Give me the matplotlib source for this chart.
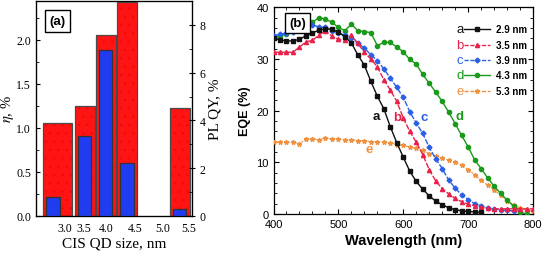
import matplotlib
matplotlib.use("Agg")
import matplotlib.pyplot as plt
import numpy as np
from matplotlib.ticker import MultipleLocator

plt.rcParams["mathtext.fontset"] = "stix"
plt.rcParams["hatch.linewidth"] = 0.5

# ---------------- data ----------------
# Panel (a)
qd_sizes = [2.9, 3.5, 3.9, 4.3, 5.3]          # nm
eta = [1.05, 1.25, 2.05, 2.43, 1.23]           # efficiency, %
plqy = [0.81, 3.33, 6.95, 2.21, 0.31]          # PL QY, %
xtick_labels = ["3.0", "3.5", "4.0", "4.5", "5.0", "5.5"]

# Panel (b)
wl = list(range(400, 810, 10))
eqe_a = [34.0, 33.7, 33.5, 33.5, 33.8, 34.5, 35.0, 35.6, 35.8, 35.8, 35.2, 34.3, 33.1, 30.8,
         28.8, 25.7, 22.8, 20.4, 16.9, 13.8, 11.0, 8.3, 6.3, 4.8, 3.5, 2.5, 1.8, 1.2, 0.85,
         0.6, 0.5, 0.4, 0.3]
eqe_b = [31.3, 31.3, 31.3, 31.3, 32.3, 33.3, 33.6, 34.6, 35.5, 34.4, 33.8, 33.7, 34.6, 33.0,
         31.3, 30.0, 28.5, 26.0, 24.0, 21.8, 18.6, 16.0, 13.9, 11.5, 8.6, 6.4, 4.9, 3.9, 3.0,
         2.4, 1.9, 1.6, 1.3, 1.1, 1.0, 1.0, 1.0, 1.0, 1.0, 1.0, 1.0]
eqe_c = [34.5, 34.8, 35.0, 35.3, 35.8, 36.6, 36.6, 36.2, 36.1, 35.5, 35.1, 34.6, 34.1, 33.1,
         32.1, 30.8, 29.7, 28.1, 26.3, 24.5, 22.6, 19.8, 17.6, 15.6, 12.9, 10.7, 8.8, 6.6, 5.0,
         3.7, 2.8, 2.0, 1.6, 1.2, 0.95, 0.8, 0.7, 0.6]
eqe_d = [34.0, 34.5, 34.8, 35.4, 35.8, 36.3, 37.1, 38.0, 37.7, 37.1, 36.1, 35.5, 36.7, 35.5,
         35.3, 35.1, 32.6, 33.2, 33.2, 32.3, 31.4, 29.9, 29.0, 27.0, 25.3, 23.6, 21.8, 19.7,
         17.5, 15.2, 13.0, 10.5, 8.8, 7.0, 5.4, 4.0, 2.7, 1.5, 0.4, 0.0]
eqe_e = [13.9, 13.9, 13.9, 13.9, 13.6, 14.5, 14.5, 14.4, 14.7, 14.5, 14.5, 14.4, 14.4, 14.2,
         14.2, 14.0, 14.0, 13.9, 13.8, 13.4, 13.3, 12.9, 12.7, 12.3, 11.7, 11.2, 10.8, 10.4,
         10.1, 9.4, 8.6, 7.6, 6.5, 5.6, 4.7, 3.6, 2.6, 1.8, 1.1, 0.7, 0.5]
series_letters = ["a", "b", "c", "d", "e"]
series_labels = ["2.9 nm", "3.5 nm", "3.9 nm", "4.3 nm", "5.3 nm"]

# ---------------- figure ----------------
W, H = 543, 255
fig = plt.figure(figsize=(W / 100, H / 100), dpi=100)

serif = "Liberation Serif"
sans = "Liberation Sans"

# ---- panel (a) ----
axa = fig.add_axes([36 / W, 1 - 217 / H, 156 / W, 215 / H])
axr = axa.twinx()
red_left = [s - 0.19 for s in qd_sizes]
red_left[0] = qd_sizes[0] - 0.18
red_w = [0.54, 0.38, 0.38, 0.38, 0.38]
axa.bar(red_left, eta, width=red_w, align="edge", color="#ff1414",
        edgecolor="#f20808", hatch="..", linewidth=0, zorder=2)
axa.bar(red_left, eta, width=red_w, align="edge", facecolor="none",
        edgecolor="#4a4a4a", linewidth=0.9, zorder=3)
axr.bar(qd_sizes, plqy, width=0.25, color="#1f3cf0", edgecolor="#333333",
        linewidth=0.9, zorder=4)
axa.set_xlim(2.58, 5.53)
axa.set_ylim(0, 2.44)
axr.set_ylim(0, 9.0)
tick_pos = [3.13, 3.49, 3.91, 4.45, 4.97, 5.47]
axa.set_xticks(tick_pos)
axa.set_xticklabels(xtick_labels)
axa.tick_params(axis="x", length=0, labelsize=8.5, pad=4)
axa.yaxis.set_major_locator(MultipleLocator(0.5))
axa.yaxis.set_minor_locator(MultipleLocator(0.25))
axa.yaxis.set_major_formatter(matplotlib.ticker.FormatStrFormatter("%.1f"))
axa.tick_params(axis="y", which="major", direction="in", length=3, labelsize=8.5)
axa.tick_params(axis="y", which="minor", direction="in", length=2)
axr.yaxis.set_major_locator(MultipleLocator(2))
axr.yaxis.set_minor_locator(MultipleLocator(1))
axr.tick_params(axis="y", which="major", direction="inout", length=4, labelsize=8.5)
axr.tick_params(axis="y", which="minor", direction="in", length=2)
for ax in (axa, axr):
    for lab in ax.get_xticklabels() + ax.get_yticklabels():
        lab.set_fontfamily(serif)
axa.set_xlabel("CIS QD size, nm", fontfamily=serif, fontsize=11, labelpad=2)
axa.set_ylabel(r"$\eta$, %", fontfamily=serif, fontsize=10.5)
axa.yaxis.set_label_coords(-0.125, 0.5)
axr.set_ylabel("PL QY, %", fontfamily=serif, fontsize=11, labelpad=2)
axa.text(0.085, 0.935, "(a)", transform=axa.transAxes, fontfamily=sans,
         fontweight="bold", fontsize=9.5, va="top", ha="left",
         bbox=dict(boxstyle="square,pad=0.35", facecolor="white",
                   edgecolor="black", linewidth=1.0), zorder=10)
for sp in axa.spines.values():
    sp.set_linewidth(0.9)

# ---- panel (b) ----
axb = fig.add_axes([273.5 / W, 1 - 215 / H, 259.5 / W, 206.7 / H])
colors = ["#111111", "#e8224a", "#2a5fe6", "#1a9a1a", "#f0913f"]
markers = ["s", "^", "D", "o", "*"]
msizes = [2.6, 3.0, 2.5, 3.0, 3.4]
data = [eqe_a, eqe_b, eqe_c, eqe_d, eqe_e]
for i, y in enumerate(data):
    x = wl[:len(y)]
    ls = "-" if i in (0, 3) else (0, (4, 1.2)) if i in (1, 2) else (0, (2, 1.2))
    axb.plot(x, y, color=colors[i], marker=markers[i], markersize=msizes[i],
             linewidth=1.0 if i != 4 else 0.8, linestyle=ls, zorder=3 + (4 - i) * 0.1)
axb.set_xlim(400, 800)
axb.set_ylim(0, 40)
axb.xaxis.set_major_locator(MultipleLocator(100))
axb.xaxis.set_minor_locator(MultipleLocator(20))
axb.yaxis.set_major_locator(MultipleLocator(10))
axb.yaxis.set_minor_locator(MultipleLocator(2))
axb.tick_params(which="both", direction="in", top=True, right=True, labelsize=8)
axb.tick_params(which="major", length=3.5)
axb.tick_params(which="minor", length=2)
for lab in axb.get_xticklabels() + axb.get_yticklabels():
    lab.set_fontfamily(sans)
axb.set_xlabel("Wavelength (nm)", fontfamily=sans, fontweight="bold", fontsize=10.5,
               labelpad=3)
axb.set_ylabel("EQE (%)", fontfamily=sans, fontweight="bold", fontsize=9, labelpad=4)
for sp in axb.spines.values():
    sp.set_linewidth(0.9)
axb.text(0.06, 0.955, "(b)", transform=axb.transAxes, fontfamily=sans,
         fontweight="bold", fontsize=9.5, va="top", ha="left",
         bbox=dict(boxstyle="square,pad=0.3", facecolor="white",
                   edgecolor="black", linewidth=1.0), zorder=10)

# in-plot curve labels
curve_label_pos = [(559, 19.0), (590, 18.8), (632, 18.8), (686, 18.9), (547, 12.6)]
for i, (lx, ly) in enumerate(curve_label_pos):
    axb.text(lx, ly, series_letters[i], color=colors[i], fontfamily=sans,
             fontweight="bold", fontsize=9.5, ha="center", va="center", zorder=6)

# legend, drawn in axes coordinates
rows = [0.895, 0.819, 0.746, 0.672, 0.597]
for i, ry in enumerate(rows):
    axb.text(0.718, ry, series_letters[i], color=colors[i], transform=axb.transAxes,
             fontfamily=sans, fontsize=9.5, ha="center", va="center")
    axb.plot([0.735, 0.835], [ry, ry], transform=axb.transAxes, color=colors[i],
             linewidth=1.0, linestyle="-" if i in (0, 3) else (0, (3, 1.2)))
    axb.plot([0.785], [ry], transform=axb.transAxes, color=colors[i],
             marker=markers[i], markersize=msizes[i], linestyle="none")
    axb.text(0.858, ry, series_labels[i], transform=axb.transAxes, fontfamily=sans,
             fontweight="bold", fontsize=7, ha="left", va="center")

fig.savefig("out.png", dpi=100)
